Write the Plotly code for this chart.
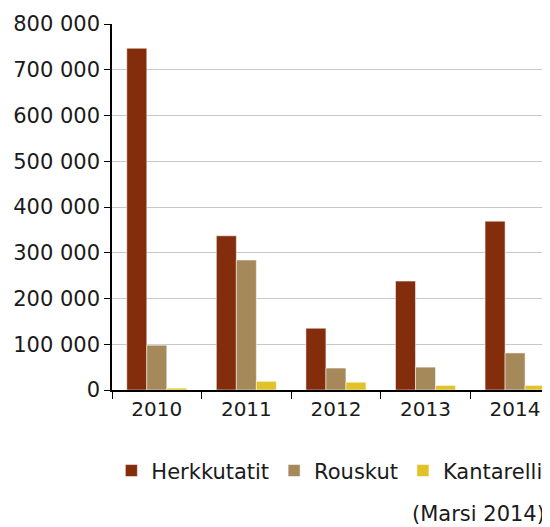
import plotly.graph_objects as go

years = ["2010", "2011", "2012", "2013", "2014"]
herkkutatit = [747000, 337000, 135000, 238000, 369000]
rouskut = [98000, 284000, 48000, 50000, 81000]
kantarelli = [4000, 19000, 17000, 10000, 10000]
y_ticks = [0, 100000, 200000, 300000, 400000, 500000, 600000, 700000, 800000]
y_tick_labels = ["0", "100 000", "200 000", "300 000", "400 000", "500 000", "600 000", "700 000", "800 000"]

font = "DejaVu Sans"
fig = go.Figure()
for name, vals, col in [("Herkkutatit", herkkutatit, "#832d0c"),
                        ("Rouskut", rouskut, "#a6895a"),
                        ("Kantarelli", kantarelli, "#e2c22a")]:
    fig.add_trace(go.Bar(x=years, y=vals, name=name, marker_color=col,
                         marker_line=dict(color="rgba(255,255,255,0.5)", width=1)))

fig.update_layout(
    width=542, height=519,
    margin=dict(l=104, r=0, t=16, b=137),
    barmode="group", bargap=0.33, bargroupgap=0,
    plot_bgcolor="white", paper_bgcolor="white",
    font=dict(family=font, size=20, color="#1a1a1a"),
    showlegend=True,
    legend=dict(orientation="h", x=0.994, xanchor="right", y=-0.221, yanchor="middle",
                font=dict(size=21), itemwidth=30, traceorder="normal"),
    xaxis=dict(type="category", range=[-0.5, 4.39], showline=True, linecolor="black", linewidth=1.5,
               ticks="outside", tickson="boundaries", ticklen=7, tickcolor="black",
               showgrid=False, tickfont=dict(size=20)),
    yaxis=dict(range=[0, 800000], tickvals=y_ticks, ticktext=y_tick_labels,
               showline=True, linecolor="black", linewidth=1.5,
               ticks="outside", ticklen=6, tickcolor="black",
               showgrid=True, gridcolor="#c8c8c8", gridwidth=1, zeroline=False,
               tickfont=dict(size=21)),
    annotations=[dict(text="(Marsi 2014)", x=0.994, xref="paper", xanchor="right",
                      y=-0.339, yref="paper", yanchor="middle", showarrow=False,
                      font=dict(size=21))],
)
fig.write_html("out.html")
